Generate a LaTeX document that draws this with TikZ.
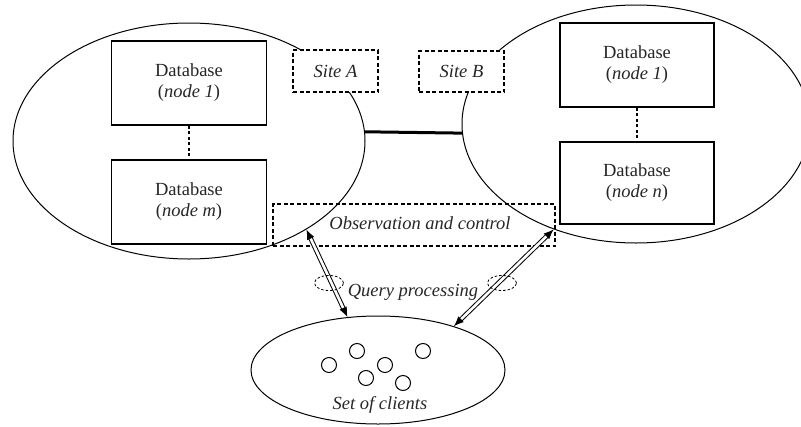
\documentclass[tikz,border=0pt]{standalone}
\usepackage{fontspec}
\setmainfont{Liberation Serif}
\usetikzlibrary{shapes.geometric,arrows.meta}
\begin{document}
\begin{tikzpicture}[x=1pt,y=-1pt,
  every node/.style={font=\fontsize{18.5}{21}\selectfont, text=black!85},
  siteell/.style={draw, ellipse, line width=1pt, inner sep=0pt},
  dbbox/.style={draw, rectangle, line width=1.5pt, minimum width=155pt, minimum height=84pt, align=center, inner sep=0pt},
  dashbox/.style={draw, rectangle, dash pattern=on 4pt off 2.5pt, line width=1.2pt, inner sep=0pt, font=\fontsize{18.5}{21}\selectfont\itshape},
  dbconn/.style={dash pattern=on 3pt off 2.5pt, line width=1.2pt},
  dblarrow/.style={double, double distance=2.6pt, line width=1pt, {Latex[length=10pt,width=8pt]}-{Latex[length=10pt,width=8pt]}},
  dashell/.style={draw, ellipse, dash pattern=on 2.5pt off 2pt, line width=0.8pt, minimum width=29pt, minimum height=15pt, inner sep=0pt},
  client/.style={draw, circle, line width=1pt, minimum size=15pt, inner sep=0pt}]
\useasboundingbox (0,0) rectangle (801,426);
% site ellipses
\node[siteell, minimum width=352pt, minimum height=236pt] (L) at (189,141) {};
\node[siteell, minimum width=348pt, minimum height=238pt] (R) at (636,124) {};
% link between sites
\draw[line width=3pt] (L.3) -- (R.183);
% site labels
\node[dashbox, fill=white, minimum width=85pt, minimum height=42pt] (SA) at (335.5,71) {Site A};
\node[dashbox, fill=white, minimum width=85pt, minimum height=41pt] (SB) at (461.5,71.5) {Site B};
% databases
\node[dbbox] (L1) at (189,83) {Database\\(\textit{node 1})};
\node[dbbox] (Lm) at (189,202) {Database\\(\textit{node m})};
\node[dbbox, minimum width=154pt] (R1) at (637,65) {Database\\(\textit{node 1})};
\node[dbbox, minimum width=154pt, minimum height=82pt] (Rn) at (637,183) {Database\\(\textit{node n})};
\draw[dbconn] (L1) -- (Lm);
\draw[dbconn] (R1) -- (Rn);
% observation and control
\node[dashbox, minimum width=282pt, minimum height=42pt] (OC) at (414,225) {\hspace*{12pt}\raisebox{3pt}{Observation and control}};
% clients
\node[siteell, minimum width=254pt, minimum height=108pt] (C) at (378,370) {};
\node[client] (c1) at (329,365) {};
\node[client] (c2) at (357,351) {};
\node[client] (c3) at (385,365) {};
\node[client] (c4) at (423,351) {};
\node[client] (c5) at (366,378) {};
\node[client] (c6) at (403,383) {};
\node[font=\fontsize{18.5}{21}\selectfont\itshape] (SC) at (380,405) {Set of clients};
% query arrows
\draw[dblarrow] (L.-37) -- (C.120);
\draw[dblarrow] (R.232) -- (C.30);
\node[dashell] (QL) at (329,283) {};
\node[dashell] (QR) at (502,283) {};
\node[font=\fontsize{18.5}{21}\selectfont\itshape] (QP) at (413,292) {Query processing};
\end{tikzpicture}
\end{document}
